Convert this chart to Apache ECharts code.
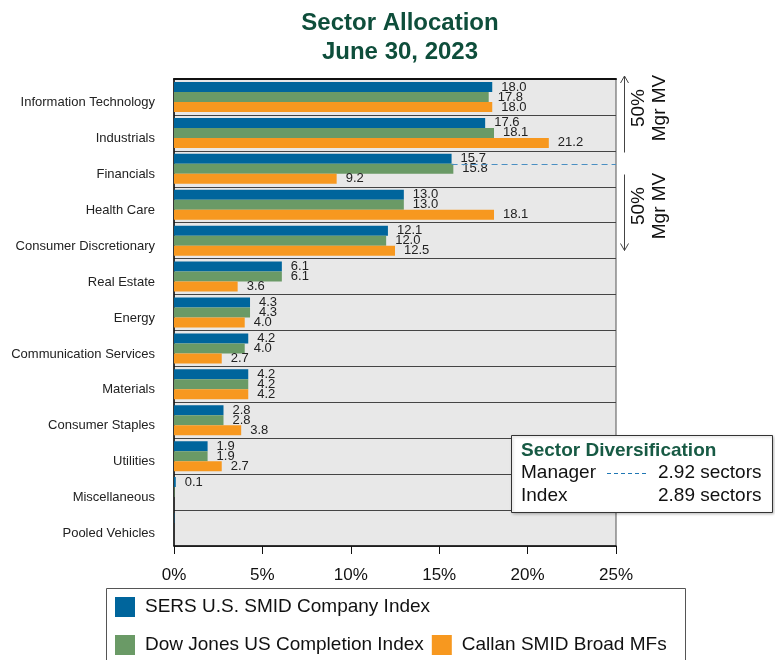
<!DOCTYPE html>
<html>
<head>
<meta charset="utf-8">
<script src="https://cdn.jsdelivr.net/npm/echarts@6/dist/echarts.min.js"></script>
<style>
  html, body { margin: 0; padding: 0; background: #ffffff; }
  #chart { width: 775px; height: 660px; }
</style>
</head>
<body>
<div id="chart"></div>
<script>
// Sectors, top to bottom
const sectors = [
  'Information Technology', 'Industrials', 'Financials', 'Health Care',
  'Consumer Discretionary', 'Real Estate', 'Energy', 'Communication Services',
  'Materials', 'Consumer Staples', 'Utilities', 'Miscellaneous', 'Pooled Vehicles'
];

// Weights in percent
const sersSmid = [18.0, 17.6, 15.7, 13.0, 12.1, 6.1, 4.3, 4.2, 4.2, 2.8, 1.9, 0.1, 0.02];
const dowJonesCompletion = [17.8, 18.1, 15.8, 13.0, 12.0, 6.1, 4.3, 4.0, 4.2, 2.8, 1.9, 0.03, null];
const callanSmidMFs = [18.0, 21.2, 9.2, 18.1, 12.5, 3.6, 4.0, 2.7, 4.2, 3.8, 2.7, null, null];

const seriesNames = ['SERS U.S. SMID Company Index', 'Dow Jones US Completion Index', 'Callan SMID Broad MFs'];
const seriesColors = ['#00659c', '#6a9a66', '#f7981f'];

const xTicks = [0, 5, 10, 15, 20, 25];

// Sector diversification figures
const diversification = { manager: '2.92 sectors', index: '2.89 sectors' };
const halfSplitSector = 2; // Financials row carries the 50% market value split

const FONT = '"Liberation Sans", Arial, sans-serif';
const chart = echarts.init(document.getElementById('chart'));

function valueLabel(p) {
  return (p.value == null || p.value < 0.1) ? '' : p.value.toFixed(1);
}

function barSeries(name, data, color) {
  return {
    name: name,
    type: 'bar',
    data: data,
    barWidth: 10,
    barGap: '0%',
    itemStyle: { color: color },
    label: {
      show: true,
      position: 'right',
      distance: 9,
      fontFamily: FONT,
      fontSize: 13,
      color: '#222',
      formatter: valueLabel
    },
    emphasis: { disabled: true },
    animation: false
  };
}

const GRID = { left: 174, right: 159, top: 79, bottom: 114 };

const legendText = { fontFamily: FONT, fontSize: 19, color: '#111', padding: [0, 0, 0, 5] };

chart.setOption({
  animation: false,
  textStyle: { fontFamily: FONT },
  title: {
    text: 'Sector Allocation\nJune 30, 2023',
    left: 395,
    textAlign: 'center',
    top: 4,
    textStyle: {
      fontFamily: FONT,
      fontSize: 24,
      fontWeight: 'bold',
      color: '#0e4e3b',
      lineHeight: 29
    }
  },
  grid: Object.assign({
    show: true,
    backgroundColor: '#e8e8e8',
    borderColor: '#555',
    borderWidth: 1
  }, GRID),
  legend: [
    {
      data: [seriesNames[0]],
      left: 115, top: 597, padding: 0,
      itemWidth: 20, itemHeight: 20,
      itemGap: 10,
      icon: 'rect',
      selectedMode: false,
      textStyle: legendText
    },
    {
      data: [seriesNames[1], seriesNames[2]],
      left: 115, top: 635, padding: 0,
      itemWidth: 20, itemHeight: 20,
      itemGap: 8,
      icon: 'rect',
      selectedMode: false,
      textStyle: legendText
    }
  ],
  xAxis: [
    {
      type: 'value',
      min: xTicks[0],
      max: xTicks[xTicks.length - 1],
      interval: xTicks[1] - xTicks[0],
      position: 'bottom',
      axisLine: { show: true, lineStyle: { color: '#111', width: 1.5 } },
      axisTick: { show: true, length: 8, lineStyle: { color: '#111' } },
      axisLabel: {
        margin: 21,
        fontFamily: FONT,
        fontSize: 17,
        color: '#111',
        formatter: v => v + '%'
      },
      splitLine: { show: false }
    },
    {
      type: 'value',
      min: xTicks[0],
      max: xTicks[xTicks.length - 1],
      position: 'top',
      axisLine: { show: true, lineStyle: { color: '#111', width: 2 } },
      axisTick: { show: false },
      axisLabel: { show: false },
      splitLine: { show: false }
    }
  ],
  yAxis: {
    type: 'category',
    data: sectors,
    inverse: true,
    axisLine: { show: true, lineStyle: { color: '#111', width: 1.5 } },
    axisTick: { show: false },
    axisLabel: {
      margin: 19,
      fontFamily: FONT,
      fontSize: 13,
      color: '#222',
      verticalAlign: 'top',
      lineHeight: 11
    },
    splitLine: { show: true, lineStyle: { color: '#444', width: 1 } }
  },
  series: [
    barSeries(seriesNames[0], sersSmid, seriesColors[0]),
    barSeries(seriesNames[1], dowJonesCompletion, seriesColors[1]),
    barSeries(seriesNames[2], callanSmidMFs, seriesColors[2])
  ]
});

// Annotations positioned from the chart's own scales
const rowCenter = chart.convertToPixel({ yAxisIndex: 0 }, halfSplitSector);
const splitY = Math.round(rowCenter - 5) + 0.5;
const splitX = chart.convertToPixel({ xAxisIndex: 0 }, sersSmid[halfSplitSector]);
const rightX = chart.convertToPixel({ xAxisIndex: 0 }, xTicks[xTicks.length - 1]);
const topY = GRID.top;

const arrowX = 624.5;
const grey = '#444';

function arrowHead(x, y, dir) {
  // open chevron head; dir = -1 points up, 1 points down
  return {
    type: 'polyline',
    shape: { points: [[x - 4, y - dir * 7], [x, y], [x + 4, y - dir * 7]] },
    style: { stroke: grey, lineWidth: 1, fill: null }
  };
}

const mgrTextStyle = {
  text: '50%\nMgr MV',
  fontFamily: FONT,
  fontSize: 19,
  lineHeight: 21,
  fill: '#111',
  align: 'center',
  verticalAlign: 'middle'
};

const boxLeft = 511, boxTop = 435;

chart.setOption({
  graphic: [
    // dashed split line at half of manager market value
    {
      type: 'line',
      shape: { x1: splitX, y1: splitY, x2: rightX, y2: splitY },
      style: { stroke: '#4a8fc2', lineWidth: 1.2, lineDash: [6, 4] },
      z: 10
    },
    // upper half arrow
    { type: 'line', shape: { x1: arrowX, y1: topY - 3, x2: arrowX, y2: splitY - 12 }, style: { stroke: grey, lineWidth: 1 } },
    arrowHead(arrowX, topY - 3, -1),
    { type: 'text', x: 649, y: 108, rotation: Math.PI / 2, style: mgrTextStyle },
    // lower half arrow
    { type: 'line', shape: { x1: arrowX, y1: splitY + 10, x2: arrowX, y2: splitY + 86 }, style: { stroke: grey, lineWidth: 1 } },
    arrowHead(arrowX, splitY + 86, 1),
    { type: 'text', x: 649, y: 206, rotation: Math.PI / 2, style: mgrTextStyle },

    // sector diversification box
    {
      type: 'rect',
      shape: { x: boxLeft + 0.5, y: boxTop + 0.5, width: 261, height: 77 },
      style: { fill: '#ffffff', stroke: '#333', lineWidth: 1, shadowBlur: 3, shadowColor: 'rgba(0,0,0,0.25)', shadowOffsetX: 1, shadowOffsetY: 1 },
      z: 20
    },
    {
      type: 'text', x: boxLeft + 10, y: boxTop + 16, z: 21,
      style: { text: 'Sector Diversification', fontFamily: FONT, fontSize: 19, fontWeight: 'bold', fill: '#175a44', verticalAlign: 'middle' }
    },
    {
      type: 'text', x: boxLeft + 10, y: boxTop + 38, z: 21,
      style: { text: 'Manager', fontFamily: FONT, fontSize: 19, fill: '#111', verticalAlign: 'middle' }
    },
    {
      type: 'line', z: 21,
      shape: { x1: boxLeft + 96, y1: boxTop + 38.5, x2: boxLeft + 138, y2: boxTop + 38.5 },
      style: { stroke: '#1f77b4', lineWidth: 1, lineDash: [4, 3] }
    },
    {
      type: 'text', x: boxLeft + 147, y: boxTop + 38, z: 21,
      style: { text: diversification.manager, fontFamily: FONT, fontSize: 19, fill: '#111', verticalAlign: 'middle' }
    },
    {
      type: 'text', x: boxLeft + 10, y: boxTop + 61, z: 21,
      style: { text: 'Index', fontFamily: FONT, fontSize: 19, fill: '#111', verticalAlign: 'middle' }
    },
    {
      type: 'text', x: boxLeft + 147, y: boxTop + 61, z: 21,
      style: { text: diversification.index, fontFamily: FONT, fontSize: 19, fill: '#111', verticalAlign: 'middle' }
    },

    // legend frame
    {
      type: 'rect',
      shape: { x: 106.5, y: 588.5, width: 579, height: 80 },
      style: { fill: null, stroke: '#555', lineWidth: 1 },
      z: 5
    }
  ]
});
</script>
</body>
</html>
